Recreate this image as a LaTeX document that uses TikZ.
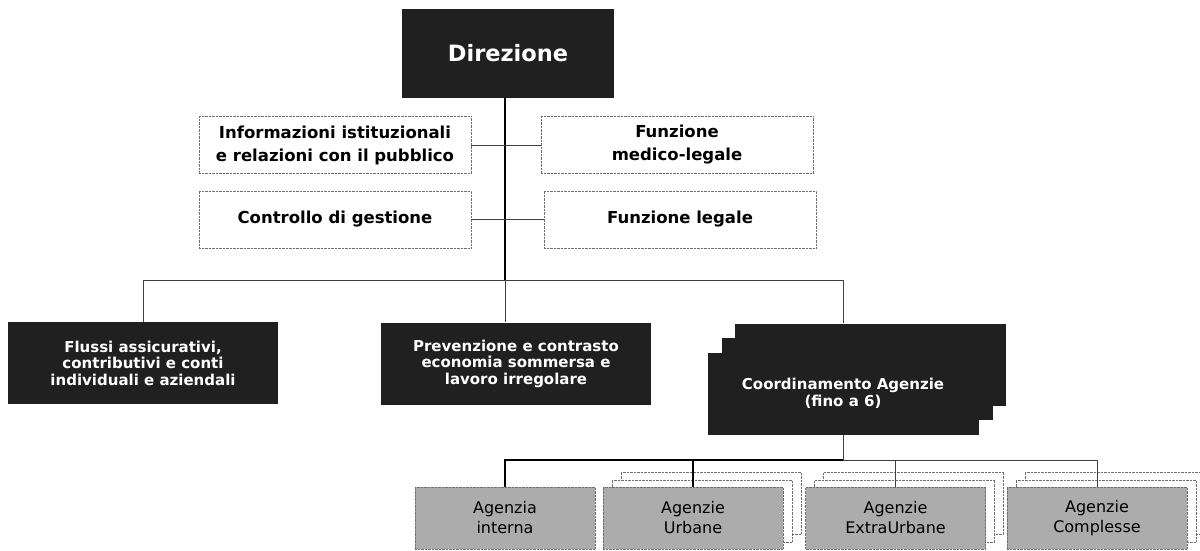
\documentclass[tikz,border=0pt]{standalone}
\usepackage{fontspec}
\setmainfont{DejaVu Sans}
\usetikzlibrary{positioning}
\definecolor{orgdark}{RGB}{32,32,32}
\definecolor{orgagency}{RGB}{172,172,172}
\definecolor{orgframe}{RGB}{110,110,110}

\begin{document}
\begin{tikzpicture}[x=1pt, y=-1pt,
    head/.style={fill=orgdark, text=white, font=\fontsize{22.5}{26}\selectfont\bfseries, minimum width=212pt, minimum height=88pt, inner sep=0pt},
    staff/.style={draw=orgframe, densely dotted, fill=white, font=\fontsize{16.5}{23}\selectfont\bfseries, align=center, minimum width=272pt, minimum height=57pt, inner sep=0pt},
    unit/.style={fill=orgdark, text=white, font=\fontsize{15}{16.5}\selectfont\bfseries, align=center, minimum width=270pt, minimum height=82pt, inner sep=0pt},
    agency/.style={draw=orgframe, densely dotted, fill=orgagency, font=\fontsize{16}{20}\selectfont, align=center, minimum width=180pt, minimum height=62pt, inner sep=0pt},
    agback/.style={draw=orgframe, densely dotted, fill=white, minimum width=180pt, minimum height=62pt, inner sep=0pt},
    link/.style={draw=black, line width=1.4pt},
    sidelink/.style={draw=black!75, line width=0.8pt}
  ]
  \fill[white] (0,0) rectangle (1200,551);
  \useasboundingbox (0,0) rectangle (1200,551);

  % Top: direction and staff functions
  \node[head] (dir) at (508,53.5) {Direzione};
  \node[staff] (info) at (335,145) {Informazioni istituzionali\\e relazioni con il pubblico};
  \node[staff] (medleg) at (677,145) {Funzione\\medico-legale};
  \node[staff] (contr) at (335,219.5) {Controllo di gestione};
  \node[staff] (leg) at (680,219.5) {Funzione legale};

  % Middle: operating units
  \node[unit] (flussi) at (143,363) {Flussi assicurativi,\\contributivi e conti\\individuali e aziendali};
  \node[unit] (prev) at (516,363.5) {Prevenzione e contrasto\\economia sommersa e\\lavoro irregolare};
  \node[unit, minimum width=271pt] (cback) at (870,364.5) {};
  \node[unit, minimum width=271pt] (cmid) at (857,379) {};
  \node[unit, minimum width=271pt] (cfront) at (843,393.5) {Coordinamento Agenzie\\(fino a 6)};

  % Bottom: agencies
  \node[agency] (aint) at (505,518) {Agenzia\\interna};
  \foreach \n/\x/\txt in {urb/693/{Agenzie\\Urbane}, extra/895.5/{Agenzie\\ExtraUrbane}, compl/1097/{Agenzie\\Complesse}} {
    \node[agback] (\n3) at ({\x+18},503) {};
    \node[agback] (\n2) at ({\x+9},511) {};
    \node[agency] (\n) at (\x,518) {\txt};
  }

  % Connectors
  \coordinate (bus) at (505,280);
  \coordinate (bus2) at (843,460);
  \draw[link] (bus |- dir.south) -- (bus);
  \draw[sidelink] (info.east) -- (medleg.west);
  \draw[sidelink] (contr.east) -- (leg.west);
  \draw[sidelink] (flussi.north) -- (flussi.north |- bus) -- (cfront |- bus) -- (cfront |- cback.north);
  \draw[sidelink] (bus) -- (bus |- prev.north);
  \draw[sidelink] (cfront.south) -- (bus2);
  \draw[link] (aint.north) -- (aint.north |- bus2) -- (bus2);
  \draw[link] (urb.north |- bus2) -- (urb.north);
  \draw[sidelink] (bus2) -- (compl.north |- bus2) -- (compl.north);
  \draw[sidelink] (extra.north |- bus2) -- (extra.north);
\end{tikzpicture}
\end{document}
